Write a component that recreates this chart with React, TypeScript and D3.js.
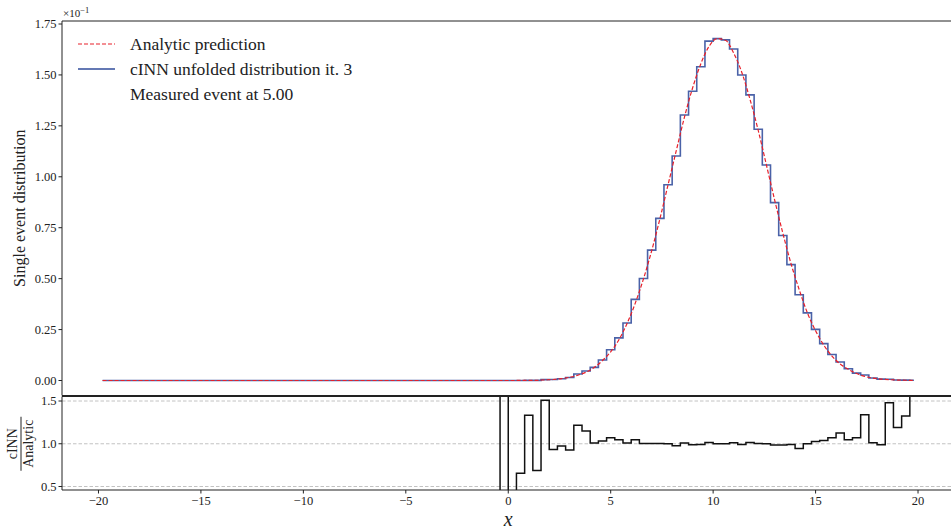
import React from "react";
import * as d3 from "d3";

// ---- data ----
// bin centers: -19.8 ... 19.8 step 0.4 (100 bins)
const binCenters: number[] = d3.range(100).map((i) => +(-19.8 + 0.4 * i).toFixed(1));

const zeros49: number[] = [
  0,0,0,0,0,0,0,0,0,0, 0,0,0,0,0,0,0,0,0,0, 0,0,0,0,0,0,0,0,0,0,
  0,0,0,0,0,0,0,0,0,0, 0,0,0,0,0,0,0,0,0,
];

// analytic prediction at bin centres (x 1e-1)
const analyticRight: number[] = [
  0.0001, 0.0001, 0.0002, 0.0004, 0.001, 0.003, 0.005, 0.009, 0.016, 0.026,
  0.041, 0.064, 0.098, 0.141, 0.2, 0.28, 0.38, 0.499, 0.637, 0.793,
  0.961, 1.128, 1.293, 1.437, 1.555, 1.64, 1.678, 1.67, 1.608, 1.512,
  1.38, 1.228, 1.058, 0.887, 0.724, 0.574, 0.446, 0.332, 0.244, 0.174,
  0.12, 0.081, 0.055, 0.034, 0.02, 0.012, 0.007, 0.004, 0.0023, 0.0012,
  0.0006,
];

// cINN unfolded histogram (x 1e-1)
const cinnRight: number[] = [
  0, 0, 0.0001, 0.0005, 0.0007, 0.0045, 0.0047, 0.0088, 0.0148, 0.032,
  0.047, 0.0645, 0.101, 0.151, 0.209, 0.282, 0.398, 0.501, 0.64, 0.796,
  0.961, 1.102, 1.303, 1.42, 1.54, 1.666, 1.678, 1.672, 1.627, 1.5,
  1.402, 1.233, 1.058, 0.873, 0.712, 0.569, 0.421, 0.332, 0.251, 0.181,
  0.128, 0.091, 0.058, 0.036, 0.027, 0.012, 0.0069, 0.0059, 0.0027, 0.0016,
  0.0011,
];

// ratio cINN / analytic
const ratioRight: number[] = [
  2.5, 0.3, 0.656, 1.332, 0.688, 1.508, 0.934, 0.973, 0.926, 1.215,
  1.148, 1.008, 1.031, 1.07, 1.047, 1.008, 1.047, 1.004, 1.004, 1.004,
  1.0, 0.977, 1.008, 0.988, 0.99, 1.016, 1.0, 1.0, 1.012, 0.992,
  1.016, 1.004, 1.0, 0.984, 0.984, 0.992, 0.945, 1.0, 1.027, 1.039,
  1.07, 1.125, 1.047, 1.07, 1.34, 1.012, 0.988, 1.48, 1.19, 1.324,
  1.8,
];

const analytic: number[] = [...zeros49, ...analyticRight];
const cinn: number[] = [...zeros49, ...cinnRight];
const ratio: number[] = [...zeros49, ...ratioRight];

const xTicks: number[] = [-20, -15, -10, -5, 0, 5, 10, 15, 20];
const yTicksTop: number[] = [0, 0.25, 0.5, 0.75, 1.0, 1.25, 1.5, 1.75];
const yTicksRatio: number[] = [0.5, 1.0, 1.5];

const legendLabels: string[] = [
  "Analytic prediction",
  "cINN unfolded distribution it. 3",
  "Measured event at 5.00",
];

const FONT = "'Liberation Serif', 'DejaVu Serif', serif";
const RED = "#e8202a";
const BLUE = "#4a62a8";

export default function App() {
  const W = 951;
  const H = 529;
  const left = 62;
  const topTop = 21;
  const topBottom = 395.5;
  const ratTop = 396.5;
  const ratBottom = 490;

  const x = d3.scaleLinear().domain([-21.78, 21.78]).range([left, 954.5]);
  const yT = d3.scaleLinear().domain([0, 1.75]).range([380.5, 24]);
  const yR = d3.scaleLinear().domain([0.5, 1.5]).range([486.5, 401]);

  const pts = binCenters.map((c, i) => ({ c, a: analytic[i], h: cinn[i], r: ratio[i] }));

  const histPath = d3
    .line<any>()
    .x((d) => x(d.c))
    .y((d) => yT(d.h))
    .curve(d3.curveStep)(pts) as string;
  const anaPath = d3
    .line<any>()
    .x((d) => x(d.c))
    .y((d) => yT(d.a))
    .curve(d3.curveMonotoneX)(pts) as string;
  const ratPath = d3
    .line<any>()
    .x((d) => x(d.c))
    .y((d) => yR(d.r))
    .curve(d3.curveStep)(pts) as string;

  const fmtTop = (v: number) => v.toFixed(2);
  const fmtX = (v: number) => (v < 0 ? "\u2212" + Math.abs(v) : String(v));

  return (
    <svg
      width={W}
      height={H}
      style={{ position: "absolute", left: 0, top: 0, background: "#fff" }}
      fontFamily={FONT}
    >
      <defs>
        <clipPath id="clipTop">
          <rect x={left} y={topTop} width={W - left} height={topBottom - topTop} />
        </clipPath>
        <clipPath id="clipRat">
          <rect x={left} y={ratTop} width={W - left} height={ratBottom - ratTop} />
        </clipPath>
      </defs>
      <rect x={0} y={0} width={W} height={H} fill="#fff" />

      {/* ---- top panel ---- */}
      <g clipPath="url(#clipTop)">
        <path d={histPath} fill="none" stroke={BLUE} strokeWidth={1.6} strokeLinejoin="miter" />
        <path d={anaPath} fill="none" stroke={RED} strokeWidth={1.2} strokeDasharray="4,2" />
      </g>
      <line x1={left} x2={W} y1={topTop} y2={topTop} stroke="#222" strokeWidth={1} />
      <line x1={left} x2={W} y1={topBottom} y2={topBottom} stroke="#222" strokeWidth={1} />
      <line x1={left} x2={left} y1={topTop} y2={topBottom} stroke="#222" strokeWidth={1} />
      {yTicksTop.map((t) => (
        <g key={"yt" + t}>
          <line x1={left - 3.5} x2={left} y1={yT(t)} y2={yT(t)} stroke="#222" strokeWidth={1} />
          <text x={left - 5.5} y={yT(t)} dy="0.35em" textAnchor="end" fontSize={12.5} fill="#222">
            {fmtTop(t)}
          </text>
        </g>
      ))}
      <text x={63} y={17} fontSize={11} fill="#222">
        ×10
        <tspan dy={-4} fontSize={8.5}>
          −1
        </tspan>
      </text>
      <text
        transform={`translate(25, ${(topTop + topBottom) / 2}) rotate(-90)`}
        textAnchor="middle"
        fontSize={16}
        fill="#222"
      >
        Single event distribution
      </text>

      {/* legend */}
      <line x1={78} x2={115} y1={44} y2={44} stroke={RED} strokeWidth={1.2} strokeDasharray="4,2" />
      <line x1={78} x2={115} y1={69} y2={69} stroke={BLUE} strokeWidth={1.8} opacity={0.85} />
      {legendLabels.map((s, i) => (
        <text key={s} x={130} y={44 + 25 * i} dy="0.33em" fontSize={17.5} fill="#222">
          {s}
        </text>
      ))}

      {/* ---- ratio panel ---- */}
      {yTicksRatio.map((t) => (
        <line
          key={"g" + t}
          x1={left}
          x2={W}
          y1={yR(t)}
          y2={yR(t)}
          stroke="#bbb"
          strokeWidth={0.9}
          strokeDasharray="3.5,2"
        />
      ))}
      <g clipPath="url(#clipRat)">
        <path d={ratPath} fill="none" stroke="#111" strokeWidth={1.5} />
      </g>
      <line x1={left} x2={W} y1={ratTop} y2={ratTop} stroke="#222" strokeWidth={1} />
      <line x1={left} x2={W} y1={ratBottom} y2={ratBottom} stroke="#222" strokeWidth={1} />
      <line x1={left} x2={left} y1={ratTop} y2={ratBottom} stroke="#222" strokeWidth={1} />
      {yTicksRatio.map((t) => (
        <g key={"yr" + t}>
          <line x1={left - 3.5} x2={left} y1={yR(t)} y2={yR(t)} stroke="#222" strokeWidth={1} />
          <text x={left - 5.5} y={yR(t)} dy="0.35em" textAnchor="end" fontSize={12.5} fill="#222">
            {t.toFixed(1)}
          </text>
        </g>
      ))}
      {xTicks.map((t) => (
        <g key={"x" + t}>
          <line x1={x(t)} x2={x(t)} y1={ratBottom} y2={ratBottom + 3.5} stroke="#222" strokeWidth={1} />
          <text x={x(t)} y={ratBottom + 15} textAnchor="middle" fontSize={12.5} fill="#222">
            {fmtX(t)}
          </text>
        </g>
      ))}
      <text x={x(0)} y={526} textAnchor="middle" fontSize={20} fontStyle="italic" fill="#222">
        x
      </text>
      <g transform={`translate(21, ${yR(1.0)}) rotate(-90)`}>
        <text x={0} y={-4} textAnchor="middle" fontSize={14} fill="#222">
          cINN
        </text>
        <line x1={-27} x2={27} y1={0} y2={0} stroke="#222" strokeWidth={1} />
        <text x={0} y={12} textAnchor="middle" fontSize={14} fill="#222">
          Analytic
        </text>
      </g>
    </svg>
  );
}
